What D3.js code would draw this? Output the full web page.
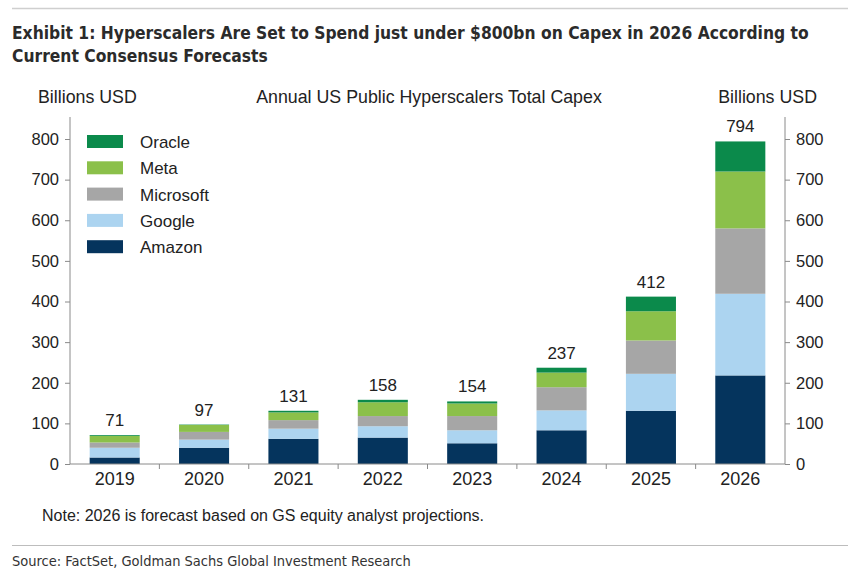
<!DOCTYPE html>
<html>
<head>
<meta charset="utf-8">
<script src="https://cdn.jsdelivr.net/npm/d3@7"></script>
<style>
  html, body { margin: 0; padding: 0; background: #fff; }
  svg { display: block; }
  .head { font-family: "DejaVu Sans Condensed", "Roboto", sans-serif; font-weight: bold; fill: #2b2b2b; }
  .chart-text { font-family: "Liberation Sans", Arial, sans-serif; fill: #222; }
  .axis path, .axis line { stroke: #8a8a8a; }
</style>
</head>
<body>
<svg id="chart" width="862" height="580"></svg>
<script>
// years on the x axis
var years = ['2019', '2020', '2021', '2022', '2023', '2024', '2025', '2026'];

// capex per company, billions USD
var amazon    = [16, 40, 62, 65, 51, 83, 131, 218];
var google    = [24, 20, 25, 28, 32, 49, 91, 201];
var microsoft = [13, 19, 21, 25, 35, 57, 82, 161];
var meta      = [16, 17, 19, 34, 31, 36, 72, 140];
var oracle    = [2, 1, 4, 6, 5, 12, 36, 74];

// printed totals above each bar
var totals = [71, 97, 131, 158, 154, 237, 412, 794];

var seriesNames = ['Amazon', 'Google', 'Microsoft', 'Meta', 'Oracle'];
var seriesColors = ['#05345d', '#acd4f0', '#a6a6a6', '#8bc04a', '#0b8a4b'];
var yTicks = [0, 100, 200, 300, 400, 500, 600, 700, 800];

(function () {
    'use strict';

    var svg = d3.select('#chart');

    var plot = { left: 70, right: 785, top: 139, bottom: 464 };

    // rules and headline
    svg.append('line')
        .attr('x1', 12).attr('x2', 848).attr('y1', 8.5).attr('y2', 8.5)
        .attr('stroke', '#cfcfcf').attr('stroke-width', 1.5);

    svg.append('text').attr('class', 'head')
        .attr('x', 12).attr('y', 39).attr('font-size', 17.3)
        .text('Exhibit 1: Hyperscalers Are Set to Spend just under $800bn on Capex in 2026 According to');
    svg.append('text').attr('class', 'head')
        .attr('x', 12).attr('y', 62).attr('font-size', 17.3)
        .text('Current Consensus Forecasts');

    // build rows for the stack
    var rows = years.map(function (y, i) {
        return {
            year: y,
            Amazon: amazon[i],
            Google: google[i],
            Microsoft: microsoft[i],
            Meta: meta[i],
            Oracle: oracle[i],
            total: totals[i]
        };
    });

    var layers = d3.stack().keys(seriesNames)(rows);

    var x = d3.scaleBand()
        .domain(years)
        .range([plot.left, plot.right])
        .paddingInner(0.44)
        .paddingOuter(0.22);

    var y = d3.scaleLinear()
        .domain([0, 800])
        .range([plot.bottom, plot.top]);

    var color = d3.scaleOrdinal().domain(seriesNames).range(seriesColors);

    // bars
    var g = svg.append('g');
    g.selectAll('.layer')
        .data(layers)
        .enter()
        .append('g')
        .attr('class', 'layer')
        .attr('fill', function (d) { return color(d.key); })
        .selectAll('rect')
        .data(function (d) { return d; })
        .enter()
        .append('rect')
        .attr('x', function (d) { return x(d.data.year); })
        .attr('width', x.bandwidth())
        .attr('y', function (d) { return y(d[1]); })
        .attr('height', function (d) { return y(d[0]) - y(d[1]); });

    // total labels
    g.selectAll('.total')
        .data(rows)
        .enter()
        .append('text')
        .attr('class', 'chart-text total')
        .attr('x', function (d) { return x(d.year) + x.bandwidth() / 2; })
        .attr('y', function (d) { return y(d.total) - 9; })
        .attr('text-anchor', 'middle')
        .attr('font-size', 17)
        .text(function (d) { return d.total; });

    // left and right axes
    var leftAxis = svg.append('g')
        .attr('class', 'axis chart-text')
        .attr('transform', 'translate(' + plot.left + ',0)')
        .call(d3.axisLeft(y).tickValues(yTicks).tickSize(5).tickSizeOuter(0).tickPadding(6));
    var rightAxis = svg.append('g')
        .attr('class', 'axis chart-text')
        .attr('transform', 'translate(' + plot.right + ',0)')
        .call(d3.axisRight(y).tickValues(yTicks).tickSize(5).tickSizeOuter(0).tickPadding(6));

    [leftAxis, rightAxis].forEach(function (a) {
        a.select('.domain').attr('d', 'M0,' + plot.bottom + 'V' + (plot.top - 22));
        a.selectAll('text')
            .attr('font-size', 16.5)
            .attr('font-family', '"Liberation Sans", Arial, sans-serif')
            .attr('fill', '#222');
    });

    // x axis with ticks between categories
    var xAxis = svg.append('g')
        .attr('class', 'axis chart-text')
        .attr('transform', 'translate(0,' + plot.bottom + ')');
    xAxis.append('line')
        .attr('x1', plot.left).attr('x2', plot.right)
        .attr('y1', 0).attr('y2', 0);
    xAxis.selectAll('.sep')
        .data(years.slice(1))
        .enter()
        .append('line')
        .attr('x1', function (d) { return x(d) - x.step() * x.paddingInner() / 2; })
        .attr('x2', function (d) { return x(d) - x.step() * x.paddingInner() / 2; })
        .attr('y1', 0).attr('y2', 5);
    xAxis.selectAll('.lbl')
        .data(years)
        .enter()
        .append('text')
        .attr('x', function (d) { return x(d) + x.bandwidth() / 2; })
        .attr('y', 21)
        .attr('text-anchor', 'middle')
        .attr('font-size', 18)
        .attr('fill', '#222')
        .text(function (d) { return d; });

    // axis titles
    svg.append('text').attr('class', 'chart-text')
        .attr('x', 38).attr('y', 103).attr('font-size', 17.8)
        .text('Billions USD');
    svg.append('text').attr('class', 'chart-text')
        .attr('x', 429).attr('y', 103).attr('font-size', 17.8)
        .attr('text-anchor', 'middle')
        .text('Annual US Public Hyperscalers Total Capex');
    svg.append('text').attr('class', 'chart-text')
        .attr('x', 817).attr('y', 103).attr('font-size', 17.8)
        .attr('text-anchor', 'end')
        .text('Billions USD');

    // legend, top entry first
    var legendItems = seriesNames.slice().reverse();
    var legend = svg.append('g').attr('transform', 'translate(87,135)');
    var item = legend.selectAll('.item')
        .data(legendItems)
        .enter()
        .append('g')
        .attr('transform', function (d, i) { return 'translate(0,' + (i * 26.3) + ')'; });
    item.append('rect')
        .attr('width', 36).attr('height', 13)
        .attr('fill', function (d) { return color(d); });
    item.append('text')
        .attr('class', 'chart-text')
        .attr('x', 53).attr('y', 13)
        .attr('font-size', 17)
        .text(function (d) { return d; });

    // note and source
    svg.append('text').attr('class', 'chart-text')
        .attr('x', 42).attr('y', 521).attr('font-size', 16)
        .attr('fill', '#333')
        .text('Note: 2026 is forecast based on GS equity analyst projections.');

    svg.append('line')
        .attr('x1', 12).attr('x2', 848).attr('y1', 545.5).attr('y2', 545.5)
        .attr('stroke', '#bdbdbd').attr('stroke-width', 1);

    svg.append('text')
        .attr('x', 12).attr('y', 566)
        .attr('font-size', 14.5)
        .attr('font-family', '"DejaVu Sans Condensed", "Roboto", sans-serif')
        .attr('fill', '#333')
        .text('Source: FactSet, Goldman Sachs Global Investment Research');
})();
</script>
</body>
</html>
